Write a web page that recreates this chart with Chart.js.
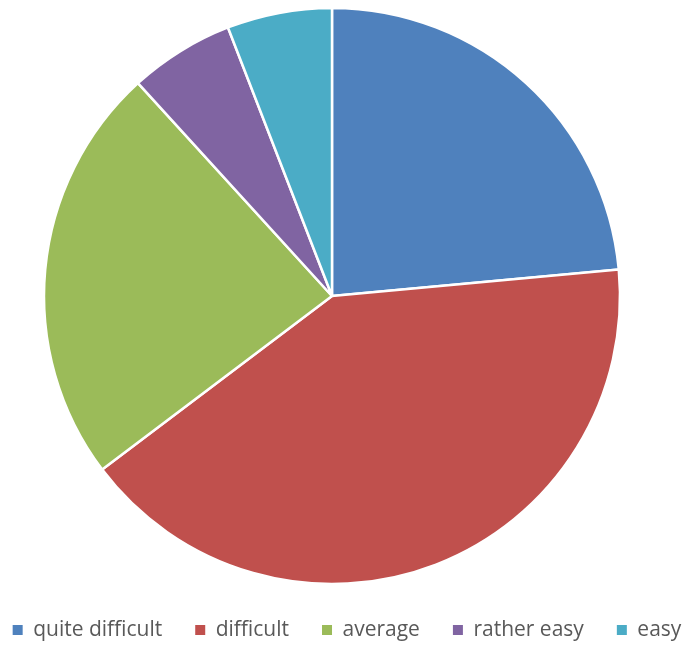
<!DOCTYPE html>
<html>
<head>
    <title>Difficulty</title>
    <script src="https://cdn.jsdelivr.net/npm/chart.js"></script>
    <style>
  body {
    margin: 0;
    padding: 0;
    background-color: #ffffff;
}

.chart-box {
    width: 686px;
    height: 646px;
}
</style>
</head>
<body>

    <div class="chart-box">
        <canvas id="difficultyChart"></canvas>
    </div>

    <script>
        // answer counts per difficulty level
        const levels = ['quite difficult', 'difficult', 'average', 'rather easy', 'easy'];
        const counts = [4, 7, 4, 1, 1];
        const sliceColors = ['#4f81bd', '#c0504d', '#9bbb59', '#8064a2', '#4bacc6'];

        // legend squares without the white slice outline
        const pieLabels = Chart.controllers.pie.overrides.plugins.legend.labels.generateLabels;

        // pull the pie a little left of the legend's centre line
        const pieShift = {
            id: 'pieShift',
            afterLayout(chart) {
                chart.chartArea.right -= 22;
                chart.chartArea.width -= 22;
            }
        };

        new Chart(document.getElementById('difficultyChart'), {
            type: 'pie',
            data: {
                labels: levels,
                datasets: [{
                    data: counts,
                    backgroundColor: sliceColors,
                    borderColor: '#ffffff',
                    borderWidth: 2.5,
                    radius: 288
                }]
            },
            options: {
                responsive: true,
                maintainAspectRatio: false,
                animation: false,
                layout: { padding: { top: 5.5, bottom: -4.5, left: -26, right: -34 } },
                plugins: {
                    tooltip: { enabled: false },
                    legend: {
                        position: 'bottom',
                        labels: {
                            boxWidth: 10,
                            boxHeight: 10,
                            padding: 33,
                            color: '#595959',
                            font: { family: 'Open Sans', size: 21 },
                            generateLabels: chart => pieLabels(chart).map(item => ({ ...item, lineWidth: 0 }))
                        }
                    }
                }
            },
            plugins: [pieShift]
        });
    </script>
</body>
</html>
